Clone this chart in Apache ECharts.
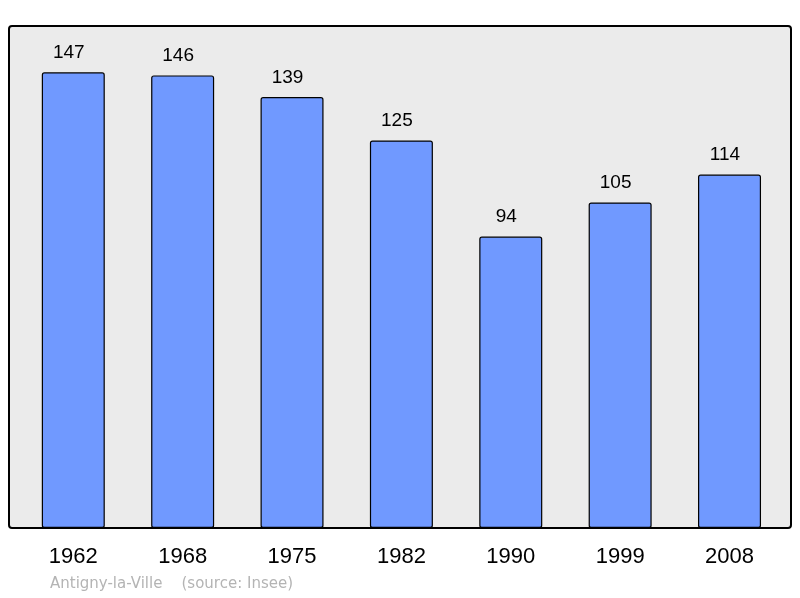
<!DOCTYPE html>
<html>
<head>
<meta charset="utf-8">
<script src="https://cdn.jsdelivr.net/npm/echarts@6/dist/echarts.min.js"></script>
<style>html,body{margin:0;padding:0;background:#fff;}#c{width:800px;height:598px;}</style>
</head>
<body>
<div id="c"></div>
<script>
const years = ['1962', '1968', '1975', '1982', '1990', '1999', '2008'];
const population = [147, 146, 139, 125, 94, 105, 114];
const footer = 'Antigny-la-Ville    (source: Insee)';

const chart = echarts.init(document.getElementById('c'), null, {renderer: 'canvas'});
chart.setOption({
  animation: false,
  backgroundColor: '#ffffff',
  textStyle: {fontFamily: 'Liberation Sans, Arial, sans-serif'},
  graphic: [
    {
      type: 'rect', z: -10, silent: true,
      shape: {x: 9, y: 26, width: 782, height: 502, r: 3},
      style: {fill: '#ebebeb', stroke: '#000', lineWidth: 2}
    },
    {
      type: 'text', left: 50, top: 577, silent: true,
      style: {text: footer, fill: '#b4b4b4', fontSize: 15, fontFamily: 'DejaVu Sans, sans-serif'}
    }
  ],
  grid: {left: 18.6, right: 15.8, top: 32, bottom: 70, containLabel: false},
  xAxis: {
    type: 'category',
    data: years,
    axisLine: {show: false},
    axisTick: {show: false},
    axisLabel: {color: '#000', fontSize: 22, margin: 18, fontFamily: 'Liberation Sans, Arial, sans-serif'}
  },
  yAxis: {
    type: 'value', min: 0, max: 160,
    show: false,
    splitLine: {show: false}
  },
  series: [{
    type: 'bar',
    data: population,
    barWidth: '57.6%',
    z: 2,
    itemStyle: {color: '#7099ff', borderColor: '#000', borderWidth: 1.2, borderRadius: 2},
    label: {show: true, position: 'top', distance: 10, offset: [-4.5, 0], color: '#000', fontSize: 19, fontFamily: 'Liberation Sans, Arial, sans-serif'}
  }]
});
</script>
</body>
</html>
